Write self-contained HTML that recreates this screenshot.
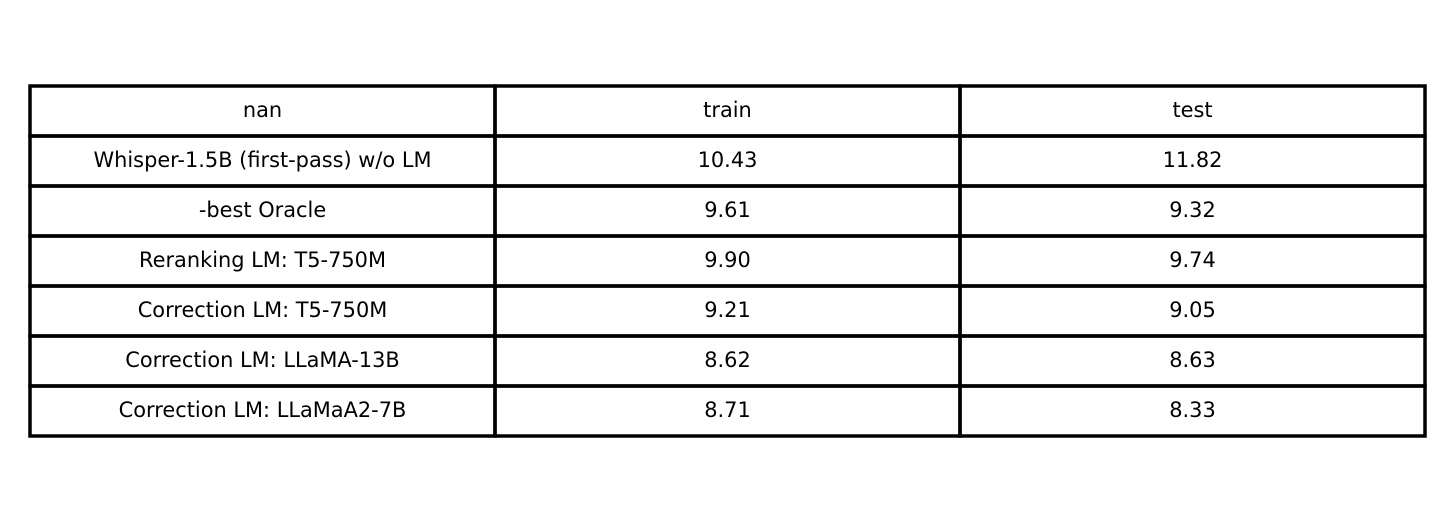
<!DOCTYPE html>
<html><head><meta charset="utf-8"><style>
html,body{margin:0;padding:0;background:#fff;}
svg{display:block;}
text{font-family:"DejaVu Sans","Liberation Sans",sans-serif;font-size:20.9px;fill:#000;}
</style></head><body>
<svg id="chart" width="1455" height="522"></svg>
<script>
const headers = ["nan", "train", "test"];
const rowLabels = ["Whisper-1.5B (first-pass) w/o LM", "-best Oracle", "Reranking LM: T5-750M", "Correction LM: T5-750M", "Correction LM: LLaMA-13B", "Correction LM: LLaMaA2-7B"];
const trainValues = ["10.43", "9.61", "9.90", "9.21", "8.62", "8.71"];
const testValues = ["11.82", "9.32", "9.74", "9.05", "8.63", "8.33"];

const svg = document.getElementById('chart');
const NS = 'http://www.w3.org/2000/svg';
const x0 = 30, y0 = 86, colW = 465, rowH = 50;
const rows = [headers].concat(rowLabels.map((l, i) => [l, trainValues[i], testValues[i]]));
rows.forEach((r, ri) => {
  r.forEach((val, ci) => {
    const rect = document.createElementNS(NS, 'rect');
    rect.setAttribute('x', x0 + ci * colW);
    rect.setAttribute('y', y0 + ri * rowH);
    rect.setAttribute('width', colW);
    rect.setAttribute('height', rowH);
    rect.setAttribute('fill', 'none');
    rect.setAttribute('stroke', '#000');
    rect.setAttribute('stroke-width', '3.5');
    
    
    svg.appendChild(rect);
    const t = document.createElementNS(NS, 'text');
    t.setAttribute('x', x0 + ci * colW + colW / 2);
    t.setAttribute('y', y0 + ri * rowH + rowH / 2 + 6);
    t.setAttribute('text-anchor', 'middle');
    
    
    t.textContent = val;
    svg.appendChild(t);
  });
});
</script>
</body></html>
